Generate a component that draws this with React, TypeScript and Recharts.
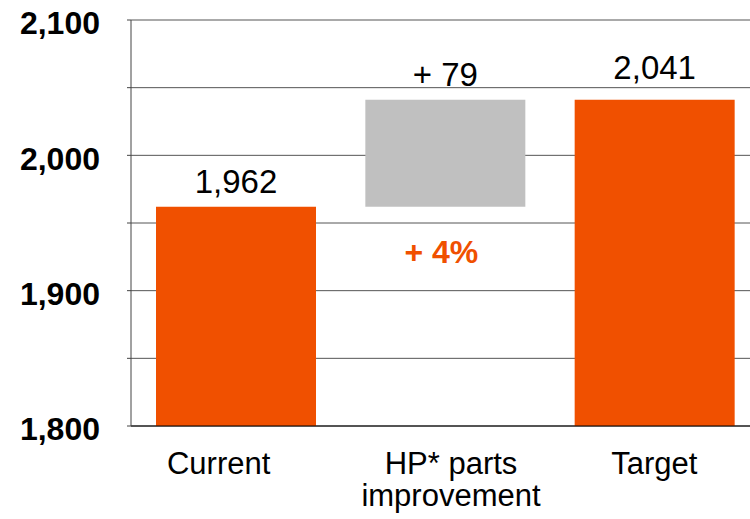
import React from "react";
import {
  Bar,
  BarChart,
  CartesianGrid,
  Cell,
  LabelList,
  XAxis,
  YAxis,
} from "recharts";

// Waterfall: current level, the step added by HP parts, and the target.
const CATEGORIES = ["Current", "HP* parts\nimprovement", "Target"];
const BAR_FROM = [1800, 1962, 1800];
const BAR_TO = [1962, 2041, 2041];
const BAR_LABELS = ["1,962", "+ 79", "2,041"];
const STEP_PCT = "+ 4%";

const Y_TICKS = [1800, 1850, 1900, 1950, 2000, 2050, 2100];

// category labels in the original are not quite centred under their bars
const TICK_SHIFT = [-17, 6, 0];

const ORANGE = "#f05000";
const GREY = "#c0c0c0";
const FONT = "'Liberation Sans', Arial, sans-serif";

const rows = CATEGORIES.map((name, i) => ({
  name,
  range: [BAR_FROM[i], BAR_TO[i]],
  label: BAR_LABELS[i],
}));

function CategoryTick({ x, y, payload, index }: any) {
  const lines = String(payload.value).split("\n");
  const cx = x + (TICK_SHIFT[index] ?? 0);
  return (
    <text x={cx} y={y} textAnchor="middle" fontFamily={FONT} fontSize={31} fill="#000">
      {lines.map((line, i) => (
        <tspan key={i} x={cx} dy={i === 0 ? 40 : 32}>
          {line}
        </tspan>
      ))}
    </text>
  );
}

function ValueLabel(props: any) {
  const { x, y, width, index, value } = props;
  // the target label sits a little higher than the other two
  const gap = index === 2 ? 21 : 14;
  return (
    <text
      x={x + width / 2}
      y={y - gap}
      textAnchor="middle"
      fontFamily={FONT}
      fontSize={33}
      fill="#000"
    >
      {value}
    </text>
  );
}

function StepLabel(props: any) {
  const { x, y, width, height, index } = props;
  if (index !== 1) return null;
  return (
    <text
      x={x + width / 2 - 4}
      y={y + height + 56}
      textAnchor="middle"
      fontFamily={FONT}
      fontWeight="bold"
      fontSize={32}
      fill={ORANGE}
    >
      {STEP_PCT}
    </text>
  );
}

export default function App() {
  return (
    <div
      style={{
        position: "fixed",
        left: 0,
        top: 0,
        width: 750,
        height: 519,
        overflow: "hidden",
        background: "#fff",
      }}
    >
      <BarChart
        width={760}
        height={519}
        data={rows}
        margin={{ top: 20, right: 1, bottom: 0, left: 0 }}
        barSize={160}
      >
        <CartesianGrid vertical={false} stroke="#555" strokeWidth={1} />
        <XAxis
          dataKey="name"
          height={93}
          axisLine={{ stroke: "#000" }}
          tickLine={false}
          tick={<CategoryTick />}
          interval={0}
        />
        <YAxis
          width={131}
          domain={[1800, 2100]}
          ticks={Y_TICKS}
          axisLine={{ stroke: "#444" }}
          tickLine={{ stroke: "#444" }}
          tickSize={4}
          tickMargin={27}
          tickFormatter={(v: number) =>
            v % 100 === 0 ? v.toLocaleString("en-US") : ""
          }
          tick={{
            fontFamily: FONT,
            fontSize: 32,
            fontWeight: "bold",
            fill: "#000",
            dy: 3,
          }}
        />
        <Bar dataKey="range" isAnimationActive={false}>
          {rows.map((_, i) => (
            <Cell key={i} fill={i === 1 ? GREY : ORANGE} />
          ))}
          <LabelList dataKey="label" content={<ValueLabel />} />
          <LabelList dataKey="label" content={<StepLabel />} />
        </Bar>
      </BarChart>
    </div>
  );
}
